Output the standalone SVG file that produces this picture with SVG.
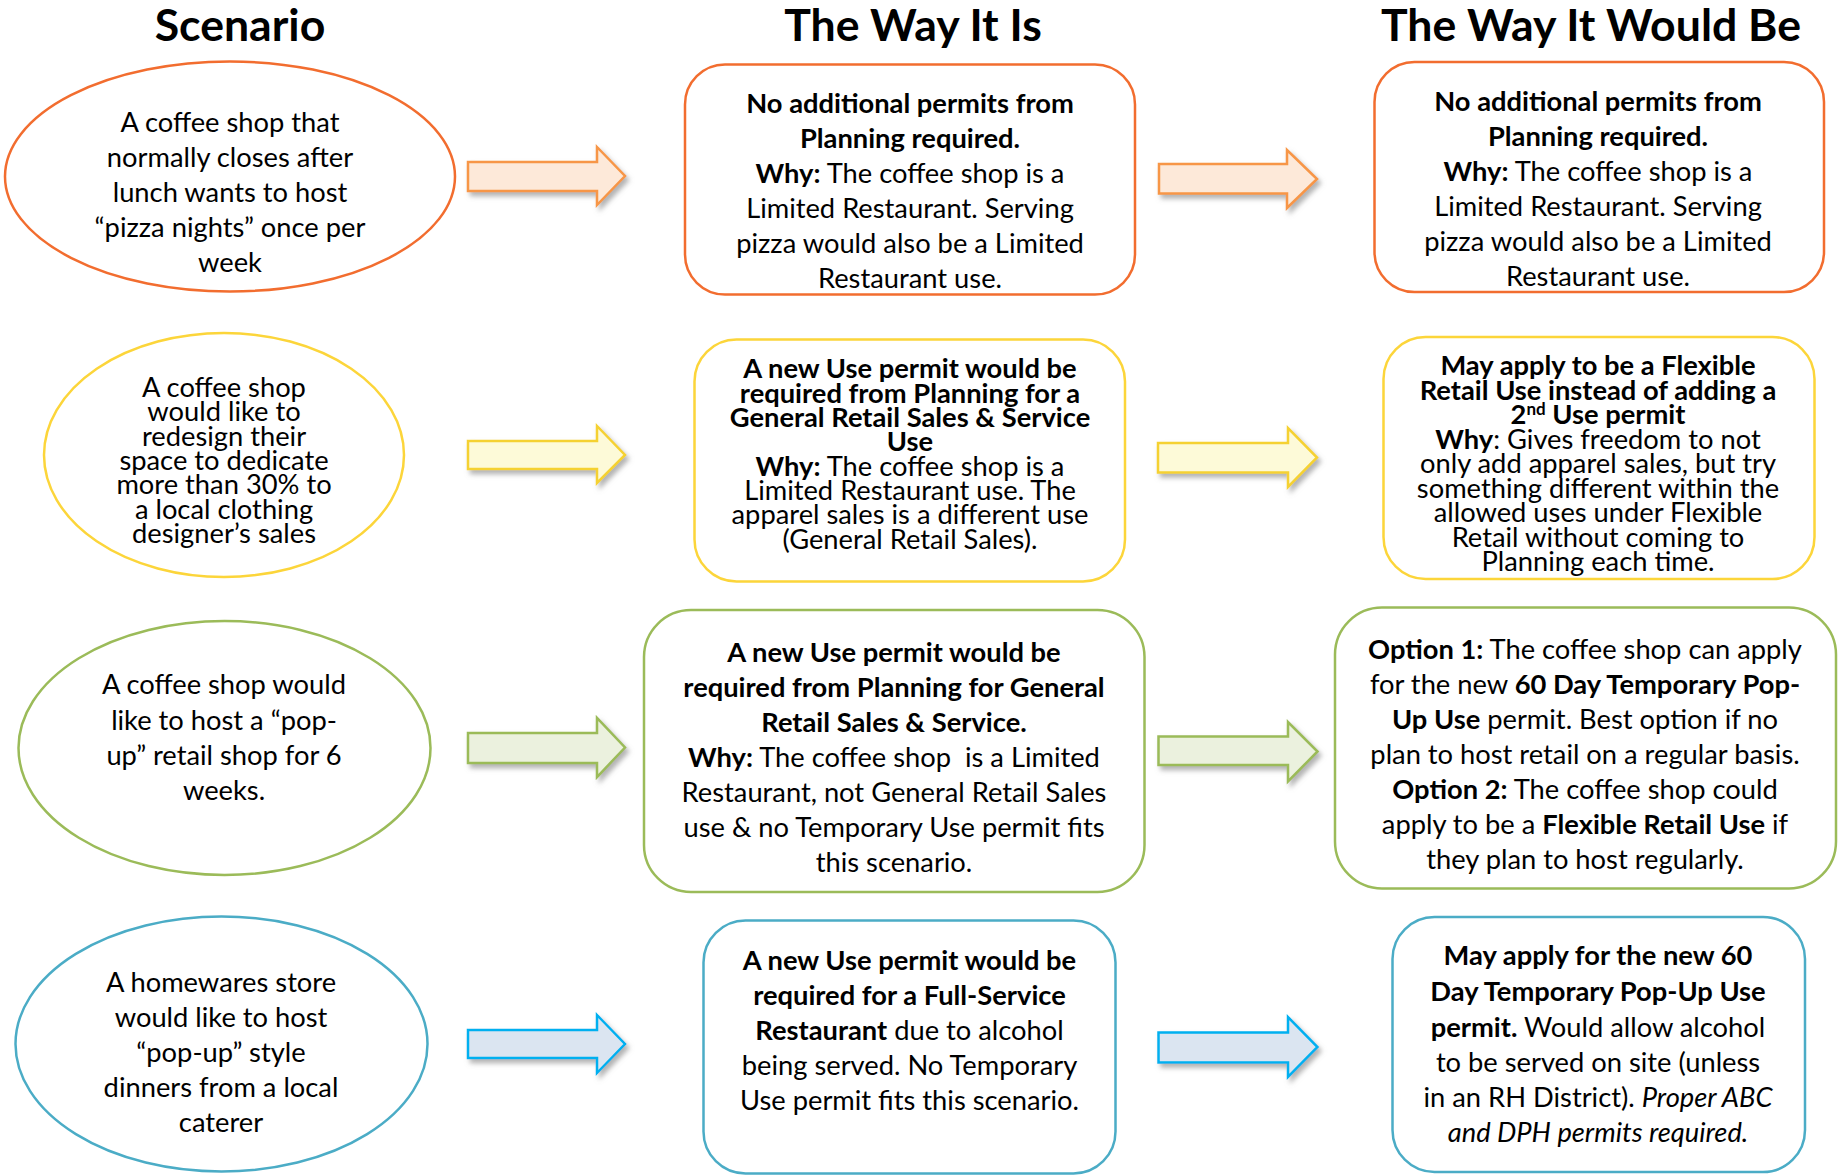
<svg xmlns="http://www.w3.org/2000/svg" width="1839" height="1175" viewBox="0 0 1839 1175">
  <style>
    text { font-family: Lato, "Open Sans", sans-serif; font-size: 27.3px; fill: #000; text-anchor: middle; }
    .title { font-size: 44.6px; font-weight: bold; }
    .b { font-weight: bold; }
    .i { font-style: italic; }
    .shape { fill: #fff; stroke-width: 2.5; }
    .orange { stroke: #F26D2F; }
    .yellow { stroke: #FCD53A; }
    .green { stroke: #9BBB59; }
    .blue { stroke: #4BACC6; }
    .arrow { stroke-width: 2.5; filter: url(#shadow); }
    .a-orange { fill: #FDE9D9; stroke: #F79646; }
    .a-yellow { fill: #FDFAD8; stroke: #F5D130; }
    .a-green { fill: #EBF1DE; stroke: #9BBB59; }
    .a-blue { fill: #DBE5F1; stroke: #00B0F0; }
  </style>
  <defs>
    <filter id="shadow" x="-10%" y="-20%" width="130%" height="150%">
      <feDropShadow dx="3" dy="4" stdDeviation="2.5" flood-color="#808080" flood-opacity="0.6"/>
    </filter>
  </defs>

  <rect width="1839" height="1175" fill="#fff"/>

  <!-- column headings -->
  <g id="headings">
    <text class="title" x="240" y="41">Scenario</text>
    <text class="title" x="913" y="41">The Way It Is</text>
    <text class="title" x="1591" y="41">The Way It Would Be</text>
  </g>

  <!-- block arrows between columns -->
  <g id="connectors">
    <polygon class="arrow a-orange" points="468,162 597,162 597,147 625,176 597,205 597,191 468,191"/>
    <polygon class="arrow a-orange" points="1159,164 1287,164 1287,150 1317,179 1287,208 1287,193.5 1159,193.5"/>
    <polygon class="arrow a-yellow" points="468,441 597,441 597,426 625,455 597,483 597,469 468,469"/>
    <polygon class="arrow a-yellow" points="1158,443 1288,443 1288,428 1317,457.5 1288,487 1288,472.5 1158,472.5"/>
    <polygon class="arrow a-green" points="468,733 597,733 597,718 625,747.5 597,777 597,763 468,763"/>
    <polygon class="arrow a-green" points="1158.5,736.5 1288,736.5 1288,722 1317.5,751.5 1288,781.5 1288,765 1158.5,765"/>
    <polygon class="arrow a-blue" points="468,1030 597,1030 597,1015 625,1044 597,1073 597,1058 468,1058"/>
    <polygon class="arrow a-blue" points="1158.5,1032.5 1288,1032.5 1288,1017 1317.5,1047 1288,1077 1288,1062.5 1158.5,1062.5"/>
  </g>

  <!-- row 1 -->
  <g id="scenario-pizza">
    <ellipse class="shape orange" cx="230" cy="176.5" rx="225" ry="115"/>
    <text x="230" y="132">A coffee shop that</text>
    <text x="230" y="167">normally closes after</text>
    <text x="230" y="202">lunch wants to host</text>
    <text x="230" y="237">“pizza nights” once per</text>
    <text x="230" y="272">week</text>
  </g>
  <g id="now-pizza">
    <rect class="shape orange" x="685" y="64.5" width="450" height="230" rx="40"/>
    <text class="b" x="910" y="113">No additional permits from</text>
    <text class="b" x="910" y="148">Planning required.</text>
    <text x="910" y="183"><tspan class="b">Why:</tspan> The coffee shop is a</text>
    <text x="910" y="218">Limited Restaurant. Serving</text>
    <text x="910" y="253">pizza would also be a Limited</text>
    <text x="910" y="288">Restaurant use.</text>
  </g>
  <g id="future-pizza">
    <rect class="shape orange" x="1374.5" y="62" width="449.5" height="230" rx="40"/>
    <text class="b" x="1598" y="111">No additional permits from</text>
    <text class="b" x="1598" y="146">Planning required.</text>
    <text x="1598" y="181"><tspan class="b">Why:</tspan> The coffee shop is a</text>
    <text x="1598" y="216">Limited Restaurant. Serving</text>
    <text x="1598" y="251">pizza would also be a Limited</text>
    <text x="1598" y="286">Restaurant use.</text>
  </g>

  <!-- row 2 -->
  <g id="scenario-apparel">
    <ellipse class="shape yellow" cx="224" cy="455" rx="180" ry="122"/>
    <text x="224" y="397">A coffee shop</text>
    <text x="224" y="421">would like to</text>
    <text x="224" y="445.5">redesign their</text>
    <text x="224" y="470">space to dedicate</text>
    <text x="224" y="494">more than 30% to</text>
    <text x="224" y="518.5">a local clothing</text>
    <text x="224" y="543">designer’s sales</text>
  </g>
  <g id="now-apparel">
    <rect class="shape yellow" x="694.5" y="339.5" width="430.5" height="242" rx="42"/>
    <text class="b" x="910" y="378">A new Use permit would be</text>
    <text class="b" x="910" y="402.5">required from Planning for a</text>
    <text class="b" x="910" y="427">General Retail Sales &amp; Service</text>
    <text class="b" x="910" y="451">Use</text>
    <text x="910" y="475.5"><tspan class="b">Why:</tspan> The coffee shop is a</text>
    <text x="910" y="500">Limited Restaurant use. The</text>
    <text x="910" y="524">apparel sales is a different use</text>
    <text x="910" y="548.5">(General Retail Sales).</text>
  </g>
  <g id="future-apparel">
    <rect class="shape yellow" x="1383.5" y="337" width="431" height="242" rx="42"/>
    <text class="b" x="1598" y="375">May apply to be a Flexible</text>
    <text class="b" x="1598" y="399.5">Retail Use instead of adding a</text>
    <text class="b" x="1598" y="424">2<tspan dy="-9" font-size="17">nd</tspan><tspan dy="9"> Use permit</tspan></text>
    <text x="1598" y="448.5"><tspan class="b">Why</tspan>: Gives freedom to not</text>
    <text x="1598" y="473">only add apparel sales, but try</text>
    <text x="1598" y="497.5">something different within the</text>
    <text x="1598" y="522">allowed uses under Flexible</text>
    <text x="1598" y="546.5">Retail without coming to</text>
    <text x="1598" y="571">Planning each time.</text>
  </g>

  <!-- row 3 -->
  <g id="scenario-popup-retail">
    <ellipse class="shape green" cx="224.5" cy="748" rx="206" ry="127"/>
    <text x="224" y="694">A coffee shop would</text>
    <text x="224" y="730">like to host a “pop-</text>
    <text x="224" y="765">up” retail shop for 6</text>
    <text x="224" y="800">weeks.</text>
  </g>
  <g id="now-popup-retail">
    <rect class="shape green" x="644" y="610" width="500.5" height="282" rx="47"/>
    <text class="b" x="894" y="662">A new Use permit would be</text>
    <text class="b" x="894" y="697">required from Planning for General</text>
    <text class="b" x="894" y="732">Retail Sales &amp; Service.</text>
    <text x="894" y="767" style="white-space:pre"><tspan class="b">Why:</tspan> The coffee shop  is a Limited</text>
    <text x="894" y="802">Restaurant, not General Retail Sales</text>
    <text x="894" y="837">use &amp; no Temporary Use permit fits</text>
    <text x="894" y="872">this scenario.</text>
  </g>
  <g id="future-popup-retail">
    <rect class="shape green" x="1335" y="607.5" width="501" height="281" rx="47"/>
    <text x="1585" y="658.5"><tspan class="b">Option 1:</tspan> The coffee shop can apply</text>
    <text x="1585" y="693.5">for the new <tspan class="b">60 Day Temporary Pop-</tspan></text>
    <text x="1585" y="728.5"><tspan class="b">Up Use</tspan> permit. Best option if no</text>
    <text x="1585" y="763.5">plan to host retail on a regular basis.</text>
    <text x="1585" y="798.5"><tspan class="b">Option 2:</tspan> The coffee shop could</text>
    <text x="1585" y="833.5">apply to be a <tspan class="b">Flexible Retail Use</tspan> if</text>
    <text x="1585" y="868.5">they plan to host regularly.</text>
  </g>

  <!-- row 4 -->
  <g id="scenario-popup-dinner">
    <ellipse class="shape blue" cx="221.5" cy="1044" rx="206" ry="127.5"/>
    <text x="221" y="992">A homewares store</text>
    <text x="221" y="1027">would like to host</text>
    <text x="221" y="1062">“pop-up” style</text>
    <text x="221" y="1097">dinners from a local</text>
    <text x="221" y="1132">caterer</text>
  </g>
  <g id="now-popup-dinner">
    <rect class="shape blue" x="703.5" y="920.5" width="412" height="253" rx="42"/>
    <text class="b" x="909.5" y="970">A new Use permit would be</text>
    <text class="b" x="909.5" y="1005">required for a Full-Service</text>
    <text x="909.5" y="1040"><tspan class="b">Restaurant</tspan> due to alcohol</text>
    <text x="909.5" y="1075">being served. No Temporary</text>
    <text x="909.5" y="1110">Use permit fits this scenario.</text>
  </g>
  <g id="future-popup-dinner">
    <rect class="shape blue" x="1392.5" y="917" width="412.5" height="255" rx="42"/>
    <text class="b" x="1598" y="965">May apply for the new 60</text>
    <text class="b" x="1598" y="1001">Day Temporary Pop-Up Use</text>
    <text x="1598" y="1036.5"><tspan class="b">permit.</tspan> Would allow alcohol</text>
    <text x="1598" y="1072">to be served on site (unless</text>
    <text x="1598" y="1107">in an RH District). <tspan class="i">Proper ABC</tspan></text>
    <text class="i" x="1598" y="1142">and DPH permits required.</text>
  </g>
</svg>
